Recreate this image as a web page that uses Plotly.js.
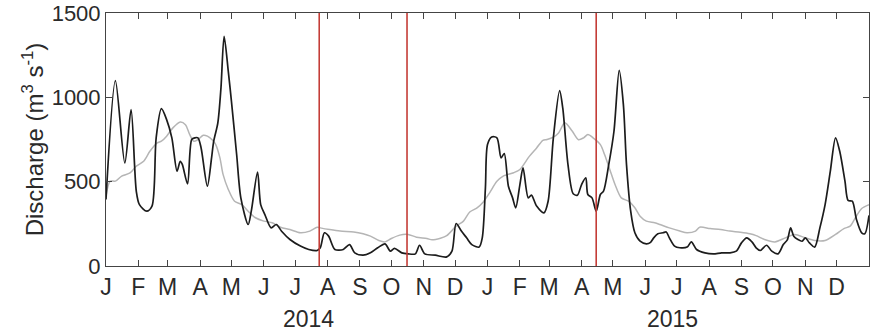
<!DOCTYPE html>
<html>
<head>
<meta charset="utf-8">
<script src="https://cdn.plot.ly/plotly-3.0.1.min.js"></script>
<style>html,body{margin:0;padding:0;background:#fff;}#chart{width:870px;height:335px;}</style>
</head>
<body>
<div id="chart"></div>
<script>
// Days since 2014-01-01 and discharge (m3 s-1)
const observedDays = [0,9,18,24,29,32,39,44,48,53,58,63,68,71,73,78,82,85,88,91,97,101,103,107,110,113,117,120,125,129,136,139,145,148,152,158,163,168,176,186,194,202,205,209,213,219,227,233,238,246,253,260,267,272,276,283,289,296,300,305,315,326,331,335,340,345,350,357,360,363,365,369,374,378,381,385,389,392,396,399,404,407,412,419,423,428,434,437,442,447,451,455,459,461,465,469,473,476,481,486,491,495,498,502,506,511,517,521,524,528,533,536,539,544,549,556,560,565,573,581,589,597,603,608,613,618,622,626,632,637,643,648,652,655,658,662,666,669,673,678,683,688,693,698,702,707,710,714,718,723,726,730];
const observedQ = [394,1099,611,927,443,364,325,355,760,933,868,760,562,621,602,487,750,760,760,700,473,641,739,849,1056,1362,1154,977,661,404,246,325,556,364,305,226,246,206,157,118,98,92,108,197,177,98,98,127,78,64,78,108,131,88,104,78,72,72,123,72,64,54,88,252,207,167,127,112,167,463,720,765,760,641,667,473,404,345,483,582,404,420,355,315,384,760,1040,937,601,428,420,483,523,424,404,325,424,444,601,799,1160,957,601,325,197,147,131,140,167,191,197,202,167,118,108,112,143,98,78,72,78,78,88,137,167,143,108,92,123,88,72,127,157,226,177,157,147,167,137,112,226,364,562,760,680,503,389,384,276,197,191,300];

const climDays = [0,4,9,15,23,29,36,42,49,53,58,64,71,76,80,84,88,93,97,102,105,109,112,117,123,130,136,143,151,159,167,176,186,195,202,205,214,224,237,246,253,261,267,273,281,289,297,307,312,320,326,335,342,348,355,361,367,374,380,390,396,405,412,418,422,428,433,439,446,452,457,461,466,473,477,482,487,493,500,506,511,517,525,530,539,549,556,564,568,578,588,597,607,616,622,630,640,650,659,669,678,688,698,706,712,717,723,730];
const climQ = [414,503,503,533,552,592,621,680,730,740,770,819,854,838,780,740,750,775,770,745,720,641,543,454,384,364,325,286,266,256,230,216,197,207,230,226,216,207,202,191,177,151,143,163,183,187,171,163,155,165,180,236,266,320,345,380,434,502,533,553,572,650,700,745,750,764,789,849,800,749,760,779,760,720,661,572,483,404,384,345,295,266,256,246,226,207,197,207,230,222,216,207,200,191,180,157,143,167,187,167,151,151,187,222,236,286,341,364];

const eventDates = ['2014-07-24','2014-10-16','2015-04-15'];
const years = [2014, 2015];
const monthLetters = ['J','F','M','A','M','J','J','A','S','O','N','D'];
const yTicks = [0, 500, 1000, 1500];

const t0 = Date.UTC(2014, 0, 1);
function dayToDate(d) {
  const dt = new Date(t0 + d * 86400000);
  return dt.toISOString().slice(0, 10);
}

const tickVals = [], tickText = [];
years.forEach(y => monthLetters.forEach((m, i) => {
  tickVals.push(y + '-' + String(i + 1).padStart(2, '0') + '-01');
  tickText.push(m);
}));

const font = 'Liberation Sans, Arial, sans-serif';
const txt = '#2a2a2a';

const traces = [
  {x: climDays.map(dayToDate), y: climQ, type: 'scatter', mode: 'lines',
   line: {color: '#b5b5b5', width: 1.5, shape: 'spline', smoothing: 0.8}, hoverinfo: 'skip'},
  {x: observedDays.map(dayToDate), y: observedQ, type: 'scatter', mode: 'lines',
   line: {color: '#1c1c1c', width: 1.7, shape: 'spline', smoothing: 0.8}, hoverinfo: 'skip'}
];

const layout = {
  width: 870, height: 335,
  margin: {l: 106, r: 1, t: 13, b: 69},
  paper_bgcolor: '#fff', plot_bgcolor: '#fff',
  showlegend: false,
  font: {family: font, color: txt},
  xaxis: {
    type: 'date', range: ['2014-01-01', '2016-01-01'],
    tickmode: 'array', tickvals: tickVals, ticktext: tickText,
    ticks: 'inside', ticklen: 6, tickwidth: 1, tickcolor: '#444',
    showline: true, linecolor: '#444', linewidth: 1, mirror: 'ticks',
    showgrid: false, zeroline: false,
    tickfont: {family: font, size: 23, color: txt}
  },
  yaxis: {
    range: [0, 1500], tickmode: 'array', tickvals: yTicks,
    ticks: 'inside', ticklen: 6, tickwidth: 1, tickcolor: '#444',
    showline: true, linecolor: '#444', linewidth: 1, mirror: 'ticks',
    showgrid: false, zeroline: false,
    tickfont: {family: font, size: 22, color: txt},
    title: {text: 'Discharge (m<sup>3</sup> s<sup>-1</sup>)', font: {family: font, size: 24, color: txt}, standoff: 1}
  },
  shapes: eventDates.map(d => ({
    type: 'line', xref: 'x', yref: 'paper', x0: d, x1: d, y0: 0, y1: 1,
    line: {color: '#c43d37', width: 1.6}, layer: 'above'
  })),
  annotations: years.map((y, i) => ({
    text: String(y), xref: 'paper', yref: 'paper',
    x: i === 0 ? 0.266 : 0.742, y: -0.21, yanchor: 'middle', xanchor: 'center',
    showarrow: false, font: {family: font, size: 23, color: txt}
  }))
};

Plotly.newPlot('chart', traces, layout, {staticPlot: true, displayModeBar: false});
</script>
</body>
</html>
